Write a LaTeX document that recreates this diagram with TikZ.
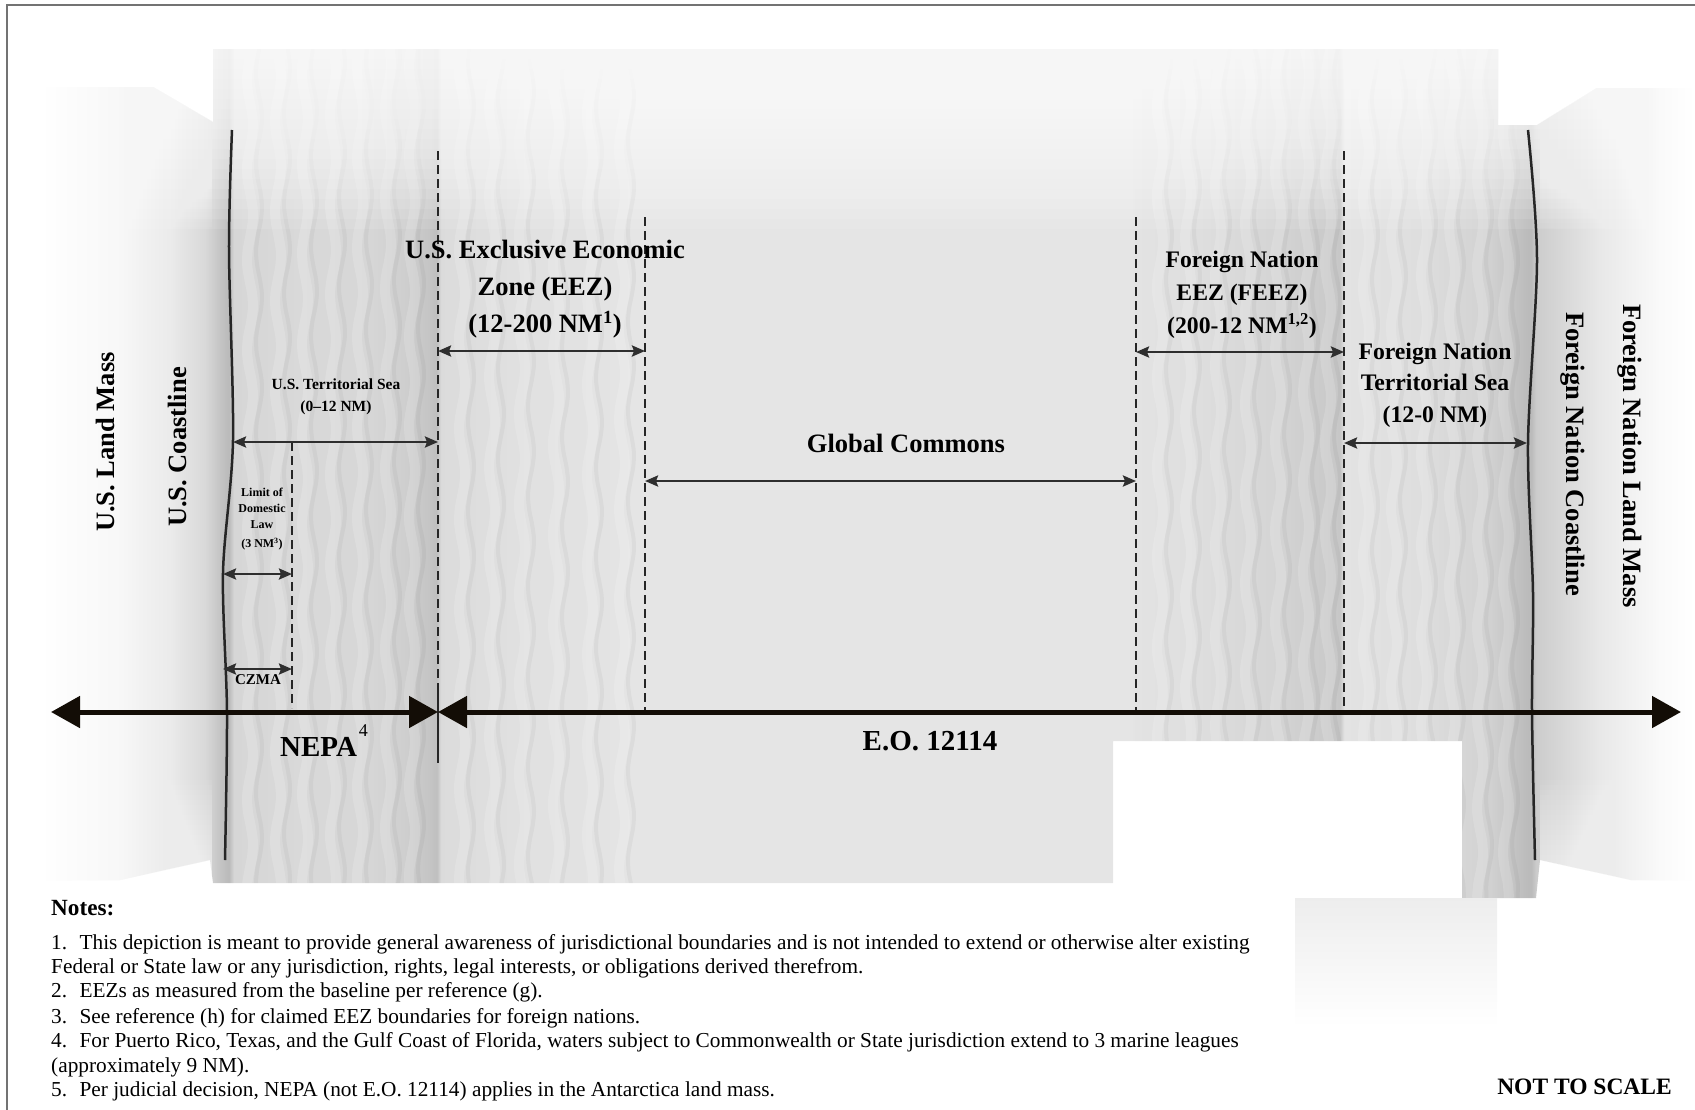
\documentclass[tikz,border=0pt]{standalone}
\usepackage{fontspec}
\setmainfont{Liberation Serif}
\usetikzlibrary{arrows.meta}
\newcommand{\myfs}[2]{\fontsize{#1}{#2}\selectfont}
\pgfdeclarehorizontalshading{seaprof}{100bp}{%
color(0bp)=(white);
color(25bp)=(white);
color(27.417bp)=(black!3);
color(28.927bp)=(black!8);
color(29.985bp)=(black!15);
color(30.498bp)=(black!24);
color(30.710bp)=(black!27);
color(30.861bp)=(black!16);
color(32.855bp)=(black!15);
color(34.970bp)=(black!16);
color(36.027bp)=(black!19);
color(36.782bp)=(black!23);
color(36.994bp)=(black!25);
color(37.115bp)=(black!14);
color(39.501bp)=(black!12);
color(41.918bp)=(black!11);
color(43.278bp)=(black!10);
color(57.930bp)=(black!10);
color(58.111bp)=(black!11);
color(60.045bp)=(black!13);
color(62.462bp)=(black!17);
color(64.275bp)=(black!22);
color(64.396bp)=(black!11);
color(66.692bp)=(black!13);
color(68.806bp)=(black!18);
color(69.864bp)=(black!26);
color(70.045bp)=(black!27);
color(70.196bp)=(black!20);
color(72.129bp)=(black!9);
color(73.942bp)=(black!2);
color(75bp)=(white);
color(100bp)=(white)}
\tikzset{
  dashline/.style={draw=black!85, line width=2pt, dash pattern=on 9pt off 5pt},
  solidline/.style={draw=black!85, line width=2pt},
  coast/.style={draw=black!85, line width=2.5pt},
  dim/.style={draw=black!82, line width=2.5pt, {Stealth[length=13pt,width=11pt,inset=2pt]}-{Stealth[length=13pt,width=11pt,inset=2pt]}},
  mainarrow/.style={draw=black!90!brown, line width=5pt, {Triangle[length=29pt,width=31pt]}-{Triangle[length=29pt,width=31pt]}},
  lbl/.style={inner sep=0pt, align=center},
  bigrot/.style={lbl, font=\bfseries\myfs{26.5pt}{32pt}},
  eeztxt/.style={lbl, font=\bfseries\myfs{26.5pt}{37pt}},
  feeztxt/.style={lbl, font=\bfseries\myfs{23.7pt}{33pt}},
  ftstxt/.style={lbl, font=\bfseries\myfs{23.7pt}{31.5pt}},
  smalltxt/.style={lbl, font=\bfseries\myfs{15.5pt}{21.5pt}},
  tinytxt/.style={lbl, font=\bfseries\myfs{12pt}{16pt}},
  notetxt/.style={inner sep=0pt, anchor=base west, font=\myfs{21.3pt}{24pt}},
  streakw/.style={white, opacity=0.16, line width=10pt},
  streakb/.style={black, opacity=0.035, line width=4pt},
  veil/.style={white, opacity=0.1},
  softveil/.style={white, opacity=0.05}
}
\begin{document}
\begin{tikzpicture}[x=1pt,y=-1pt]
\useasboundingbox (0,0) rectangle (1695,1109);
% frame
\draw[black!55, line width=2pt] (7,1115) -- (7,5) -- (1700,5);
% background
\begin{scope}
\clip (40,87) -- (153,87) -- (213,122) -- (213,49) -- (1498,49) -- (1498,125) -- (1537,125) -- (1597,88) -- (1695,88) -- (1695,880) -- (1631,880) -- (1540,860) -- (1536,898) -- (1462,898) -- (1462,741) -- (1113,741) -- (1113,883) -- (213,883) -- (210,860) -- (120,880) -- (40,880) -- cycle;
\shade[shading=seaprof] (40,49) rectangle (1695,898);
\foreach \sx in {250,278,305,333,360,388,412,462,492,522,556,590,622,1160,1188,1218,1248,1278,1306,1328,1366,1394,1424,1452,1480,1506}{
  \draw[streakw] plot[variable=\t, domain=49:898, samples=60, smooth] ({\sx+3*sin(4*\t+7*\sx)},\t);
  \draw[streakb] plot[variable=\t, domain=49:898, samples=60, smooth] ({\sx+9+3*sin(4*\t+7*\sx+30)},\t);
}
\end{scope}
\shade[top color=black!7, bottom color=white] (1295,898) rectangle (1497,1027);
% top fade of the sea and land
\foreach \k in {1,...,18} \fill[veil] (40,45) rectangle (1695,{49+10*\k});
% soft edges of land masses
\foreach \k in {1,...,28} {
  \fill[softveil] (38,80) rectangle (212,{87+5*\k});
  \fill[softveil] (1540,80) rectangle (1697,{88+5*\k});
}
\foreach \k in {1,...,20} {
  \fill[softveil] (38,{880-5*\k}) rectangle (212,885);
  \fill[softveil] (1540,{880-5*\k}) rectangle (1697,885);
  \fill[softveil] (38,80) rectangle ({40+4*\k},885);
}
% coordinates
\coordinate (d1t) at (438,151); \coordinate (d1b) at (438,705);
\coordinate (d1s) at (438,690); \coordinate (d1e) at (438,763);
\coordinate (d2t) at (645,217); \coordinate (d2b) at (645,711);
\coordinate (d3t) at (1136,217); \coordinate (d3b) at (1136,711);
\coordinate (d4t) at (1344,151); \coordinate (d4b) at (1344,711);
\coordinate (d5t) at (292,442); \coordinate (d5b) at (292,708);
% dashed boundaries
\draw[dashline] (d1t) -- (d1b);
\draw[solidline] (d1s) -- (d1e);
\draw[dashline] (d2t) -- (d2b);
\draw[dashline] (d3t) -- (d3b);
\draw[dashline] (d4t) -- (d4b);
\draw[dashline] (d5t) -- (d5b);
% coastlines
\draw[coast] plot[smooth] coordinates {(232,130) (229,250) (233,440) (223,573) (227,712) (225,860)};
\draw[coast] plot[smooth] coordinates {(1528,130) (1537,260) (1528,443) (1533,593) (1532,712) (1535,860)};
% dimension arrows
\coordinate (tsL) at (233,442); \coordinate (tsR) at (438,442);
\coordinate (liL) at (223,574); \coordinate (liR) at (292,574);
\coordinate (czL) at (223,669); \coordinate (czR) at (292,669);
\coordinate (ezL) at (438,351); \coordinate (ezR) at (645,351);
\coordinate (gcL) at (645,481); \coordinate (gcR) at (1136,481);
\coordinate (feL) at (1136,352); \coordinate (feR) at (1344,352);
\coordinate (ftL) at (1344,443); \coordinate (ftR) at (1527,443);
\draw[dim] (tsL) -- (tsR);
\draw[dim] (liL) -- (liR);
\draw[dim] (czL) -- (czR);
\draw[dim] (ezL) -- (ezR);
\draw[dim] (gcL) -- (gcR);
\draw[dim] (feL) -- (feR);
\draw[dim] (ftL) -- (ftR);
% main arrows
\coordinate (mL) at (51,712); \coordinate (mM) at (438,712); \coordinate (mR) at (1681,712);
\draw[mainarrow] (mL) -- (mM);
\draw[mainarrow] (mM) -- (mR);
% labels
\node[bigrot, rotate=90] (uland) at (105,442) {U.S. Land Mass};
\node[bigrot, rotate=90] (ucoast) at (177,447) {U.S. Coastline};
\node[bigrot, rotate=-90] (fcoast) at (1573,454) {Foreign Nation Coastline};
\node[bigrot, rotate=-90] (fland) at (1630,456) {Foreign Nation Land Mass};
\node[smalltxt] (tsea) at (336,397) {U.S. Territorial Sea\\(0–12 NM)};
\node[tinytxt] (limit) at (262,519) {Limit of\\Domestic\\Law\\[3pt](3 NM\textsuperscript{3})};
\node[lbl, font=\bfseries\myfs{15pt}{18pt}] (czma) at (258,680) {CZMA};
\node[eeztxt] (eez) at (545,289) {U.S. Exclusive Economic\\Zone (EEZ)\\(12-200 NM\textsuperscript{1})};
\node[feeztxt] (feez) at (1242,295) {Foreign Nation\\EEZ (FEEZ)\\(200-12 NM\textsuperscript{1,2})};
\node[ftstxt] (fts) at (1435,385) {Foreign Nation\\Territorial Sea\\(12-0 NM)};
\node[lbl, font=\bfseries\myfs{26.5pt}{32pt}] (gc) at (906,443) {Global Commons};
\node[inner sep=0pt, anchor=base west, font=\bfseries\myfs{29pt}{34pt}] (nepa) at (280,756) {NEPA\kern2pt\raisebox{20pt}{\mdseries\myfs{18pt}{18pt}4}};
\node[lbl, font=\bfseries\myfs{29pt}{34pt}] (eo) at (930,741) {E.O. 12114};
% notes
\node[inner sep=0pt, anchor=base west, font=\bfseries\myfs{23.2pt}{26pt}] (notes) at (51,915) {Notes:};
\node[notetxt] (n1) at (51,949) {1.~ This depiction is meant to provide general awareness of jurisdictional boundaries and is not intended to extend or otherwise alter existing};
\node[notetxt] (n2) at (51,973) {Federal or State law or any jurisdiction, rights, legal interests, or obligations derived therefrom.};
\node[notetxt] (n3) at (51,997) {2.~ EEZs as measured from the baseline per reference (g).};
\node[notetxt] (n4) at (51,1023) {3.~ See reference (h) for claimed EEZ boundaries for foreign nations.};
\node[notetxt] (n5) at (51,1047) {4.~ For Puerto Rico, Texas, and the Gulf Coast of Florida, waters subject to Commonwealth or State jurisdiction extend to 3 marine leagues};
\node[notetxt] (n6) at (51,1072) {(approximately 9 NM).};
\node[notetxt] (n7) at (51,1096) {5.~ Per judicial decision, NEPA (not E.O. 12114) applies in the Antarctica land mass.};
\node[inner sep=0pt, anchor=base east, font=\bfseries\myfs{23.5pt}{28pt}] (nts) at (1672,1094) {NOT TO SCALE};
\end{tikzpicture}
\end{document}
